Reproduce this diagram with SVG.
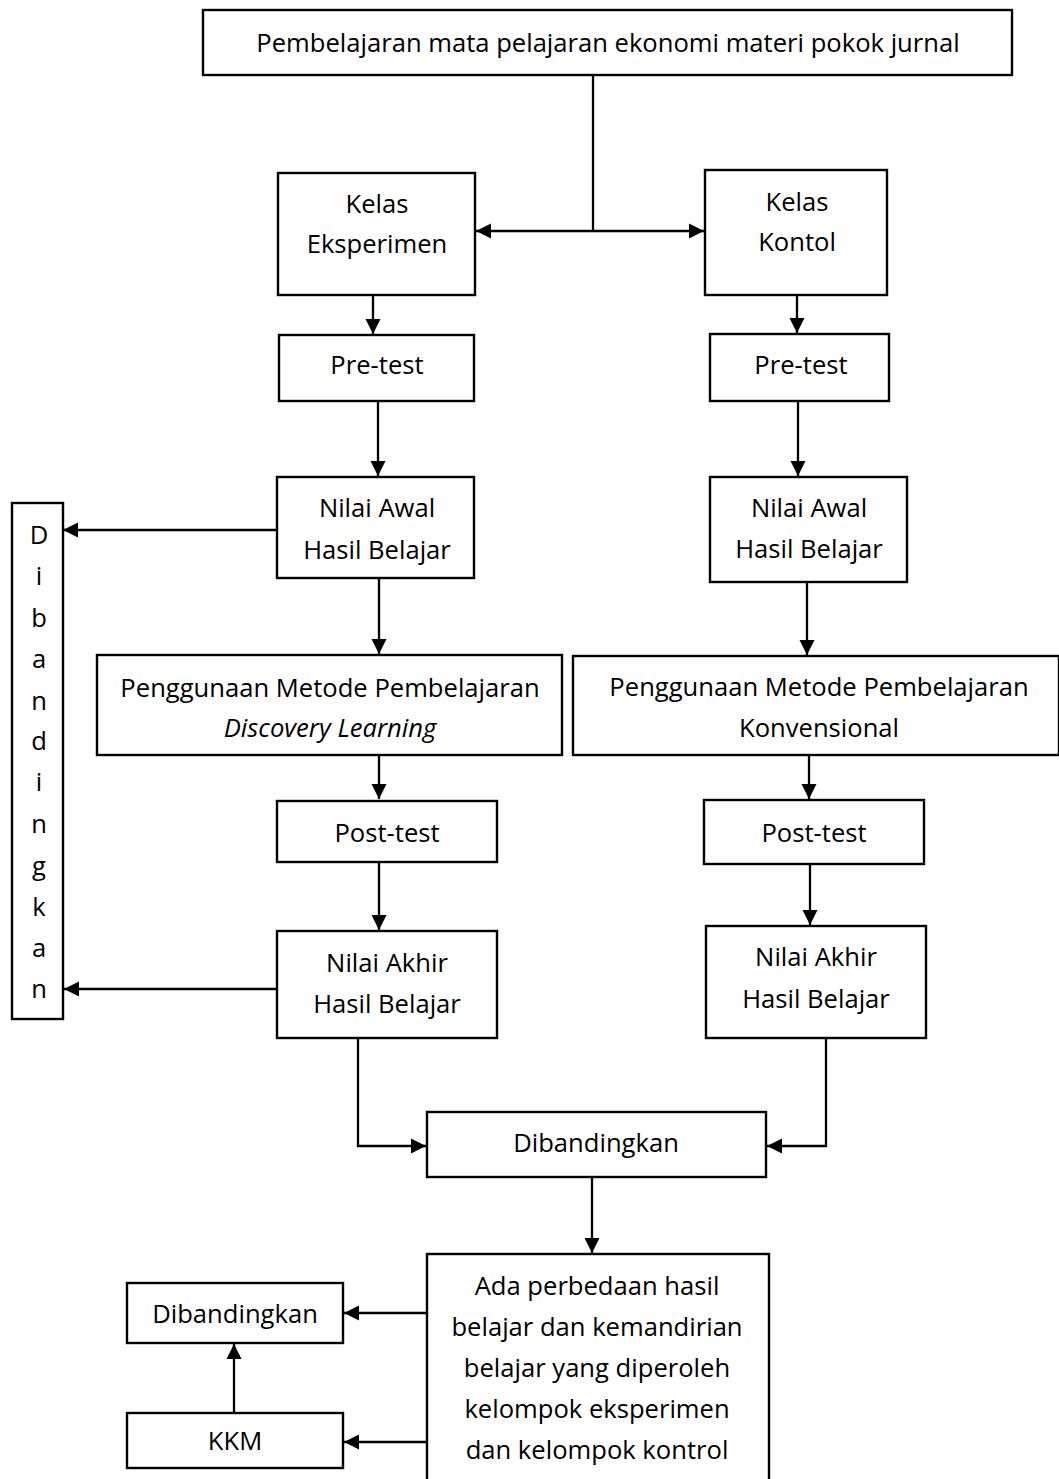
<svg xmlns="http://www.w3.org/2000/svg" width="1059" height="1479" viewBox="0 0 1059 1479">
<style>
.box{fill:#fff;stroke:#000;stroke-width:2.4}
.t{font-family:"Open Sans","Noto Sans",sans-serif;font-size:25.6px;fill:#000;text-anchor:middle;dominant-baseline:central}
.i{font-style:italic}
.c{fill:none;stroke:#000;stroke-width:2.3}
</style>
<defs>
<marker id="ah" markerUnits="userSpaceOnUse" markerWidth="16" markerHeight="16" viewBox="0 0 16 16" refX="15" refY="8" orient="auto-start-reverse">
<path d="M0,0.5 L15,8 L0,15.5 z" fill="#000"/>
</marker>
</defs>
<rect width="1059" height="1479" fill="#fff"/>
<g id="connectors">
<path class="c" d="M593,75 V231"/>
<path class="c" d="M476,231 H704" marker-start="url(#ah)" marker-end="url(#ah)"/>
<path class="c" d="M373,295 V334" marker-end="url(#ah)"/>
<path class="c" d="M797,295 V333" marker-end="url(#ah)"/>
<path class="c" d="M378,401 V476" marker-end="url(#ah)"/>
<path class="c" d="M798,401 V476" marker-end="url(#ah)"/>
<path class="c" d="M379,578 V654" marker-end="url(#ah)"/>
<path class="c" d="M807,582 V655" marker-end="url(#ah)"/>
<path class="c" d="M379,755 V799" marker-end="url(#ah)"/>
<path class="c" d="M809,755 V799" marker-end="url(#ah)"/>
<path class="c" d="M379,862 V930" marker-end="url(#ah)"/>
<path class="c" d="M810,864 V925" marker-end="url(#ah)"/>
<path class="c" d="M277,530 H63" marker-end="url(#ah)"/>
<path class="c" d="M277,989 H64" marker-end="url(#ah)"/>
<path class="c" d="M358,1038 V1146 H426" marker-end="url(#ah)"/>
<path class="c" d="M826,1038 V1146 H767" marker-end="url(#ah)"/>
<path class="c" d="M592,1177 V1253" marker-end="url(#ah)"/>
<path class="c" d="M427,1313 H344" marker-end="url(#ah)"/>
<path class="c" d="M427,1442 H344" marker-end="url(#ah)"/>
<path class="c" d="M234,1413 V1344" marker-end="url(#ah)"/>
</g>
<g id="n-top"><rect class="box" x="203" y="10" width="809" height="65"/><text class="t" x="608" y="42">Pembelajaran mata pelajaran ekonomi materi pokok jurnal</text></g>
<g id="n-kelas-eks"><rect class="box" x="278" y="173" width="197" height="122"/><text class="t" x="377" y="203">Kelas</text><text class="t" x="377" y="243">Eksperimen</text></g>
<g id="n-kelas-kon"><rect class="box" x="705" y="170" width="182" height="125"/><text class="t" x="797" y="201">Kelas</text><text class="t" x="797" y="241">Kontol</text></g>
<g id="n-pre-l"><rect class="box" x="279" y="335" width="195" height="66"/><text class="t" x="377" y="364">Pre-test</text></g>
<g id="n-pre-r"><rect class="box" x="710" y="334" width="179" height="67"/><text class="t" x="801" y="364">Pre-test</text></g>
<g id="n-awal-l"><rect class="box" x="277" y="477" width="197" height="101"/><text class="t" x="377" y="507">Nilai Awal</text><text class="t" x="377" y="549">Hasil Belajar</text></g>
<g id="n-awal-r"><rect class="box" x="710" y="477" width="197" height="105"/><text class="t" x="809" y="507">Nilai Awal</text><text class="t" x="809" y="548">Hasil Belajar</text></g>
<g id="n-metode-l"><rect class="box" x="97" y="655" width="465" height="100"/><text class="t" x="330" y="687">Penggunaan Metode Pembelajaran</text><text class="t i" x="330" y="727">Discovery Learning</text></g>
<g id="n-metode-r"><rect class="box" x="573" y="656" width="486" height="99"/><text class="t" x="819" y="686">Penggunaan Metode Pembelajaran</text><text class="t" x="819" y="727">Konvensional</text></g>
<g id="n-post-l"><rect class="box" x="277" y="801" width="220" height="61"/><text class="t" x="387" y="832">Post-test</text></g>
<g id="n-post-r"><rect class="box" x="704" y="800" width="220" height="64"/><text class="t" x="814" y="832">Post-test</text></g>
<g id="n-akhir-l"><rect class="box" x="277" y="931" width="220" height="107"/><text class="t" x="387" y="962">Nilai Akhir</text><text class="t" x="387" y="1003">Hasil Belajar</text></g>
<g id="n-akhir-r"><rect class="box" x="706" y="926" width="220" height="112"/><text class="t" x="816" y="956">Nilai Akhir</text><text class="t" x="816" y="998">Hasil Belajar</text></g>
<g id="n-banding-v"><rect class="box" x="12" y="503" width="51" height="516"/>
<text class="t" x="39" y="534">D</text><text class="t" x="39" y="575">i</text><text class="t" x="39" y="617">b</text><text class="t" x="39" y="658">a</text><text class="t" x="39" y="700">n</text><text class="t" x="39" y="740">d</text><text class="t" x="39" y="781">i</text><text class="t" x="39" y="823">n</text><text class="t" x="39" y="865">g</text><text class="t" x="39" y="906">k</text><text class="t" x="39" y="947">a</text><text class="t" x="39" y="988">n</text></g>
<g id="n-banding-mid"><rect class="box" x="427" y="1112" width="339" height="65"/><text class="t" x="596" y="1142">Dibandingkan</text></g>
<g id="n-ada"><rect class="box" x="427" y="1254" width="342" height="240"/>
<text class="t" x="597" y="1285">Ada perbedaan hasil</text><text class="t" x="597" y="1326">belajar dan kemandirian</text><text class="t" x="597" y="1367">belajar yang diperoleh</text><text class="t" x="597" y="1408">kelompok eksperimen</text><text class="t" x="597" y="1449">dan kelompok kontrol</text></g>
<g id="n-banding-bl"><rect class="box" x="127" y="1283" width="216" height="60"/><text class="t" x="235" y="1313">Dibandingkan</text></g>
<g id="n-kkm"><rect class="box" x="127" y="1413" width="216" height="55"/><text class="t" x="235" y="1440">KKM</text></g>
</svg>
